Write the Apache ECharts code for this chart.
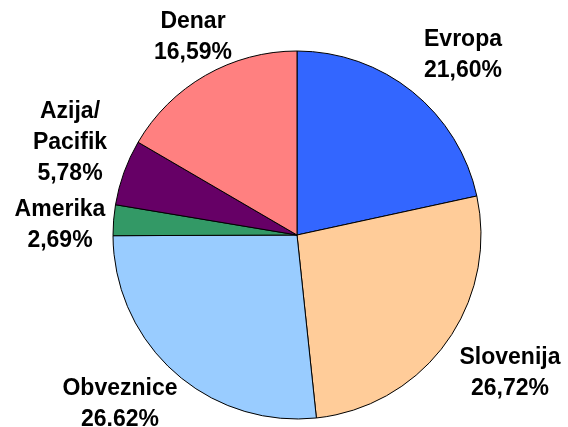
<!DOCTYPE html>
<html>
<head>
<meta charset="utf-8">
<script src="https://cdn.jsdelivr.net/npm/echarts@6/dist/echarts.min.js"></script>
<style>html,body{margin:0;padding:0;background:#fff;}#c{width:568px;height:427px;}</style>
</head>
<body>
<div id="c"></div>
<script>
var categories = ['Evropa', 'Slovenija', 'Obveznice', 'Amerika', 'Azija/\nPacifik', 'Denar'];
var values = [21.60, 26.72, 26.62, 2.69, 5.78, 16.59];
var valueLabels = ['21,60%', '26,72%', '26.62%', '2,69%', '5,78%', '16,59%'];
var colors = ['#3366FF', '#FFCC99', '#99CCFF', '#339966', '#660066', '#FF8080'];
var labelPos = [[463, 55], [510, 373], [120, 404], [60, 225], [70, 143], [193, 37]];

var chart = echarts.init(document.getElementById('c'), null, {renderer: 'canvas'});
chart.setOption({
  animation: false,
  backgroundColor: '#ffffff',
  series: [{
    type: 'pie',
    center: [297, 235],
    radius: 184,
    startAngle: 90,
    clockwise: true,
    avoidLabelOverlap: false,
    data: categories.map(function (c, i) {
      return { name: c, value: values[i], itemStyle: { color: colors[i] } };
    }),
    itemStyle: { borderColor: '#000', borderWidth: 1 },
    label: {
      show: true,
      position: 'outside',
      formatter: function (p) { return p.name + '\n' + valueLabels[p.dataIndex]; },
      fontFamily: 'Liberation Sans, Arial, sans-serif',
      fontWeight: 'bold',
      fontSize: 23,
      lineHeight: 31,
      color: '#000',
      align: 'center'
    },
    labelLine: { show: false },
    labelLayout: function (p) {
      var pos = labelPos[p.dataIndex];
      return { x: pos[0], y: pos[1], align: 'center', verticalAlign: 'middle' };
    },
    emphasis: { disabled: true }
  }]
});
</script>
</body>
</html>
